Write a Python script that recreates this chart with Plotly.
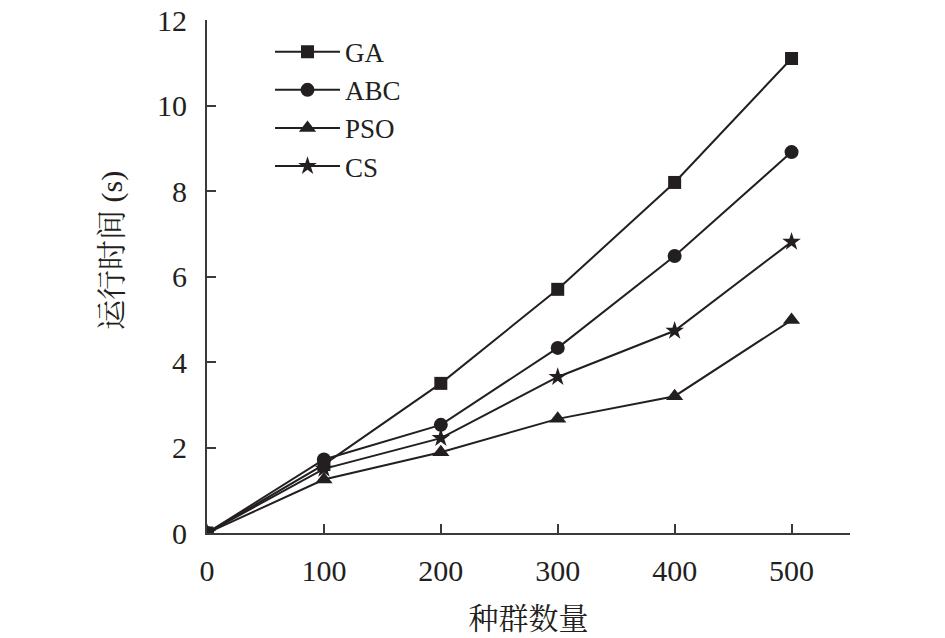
import plotly.graph_objects as go

x_vals = [0, 100, 200, 300, 400, 500]
ga = [0, 1.6, 3.5, 5.7, 8.2, 11.1]
abc = [0, 1.72, 2.53, 4.33, 6.48, 8.91]
pso = [0, 1.25, 1.89, 2.67, 3.2, 4.98]
cs = [0, 1.5, 2.22, 3.65, 4.73, 6.81]

names = ["GA", "ABC", "PSO", "CS"]
symbols = ["square", "circle", "triangle-up", "star"]
sizes = [13, 14, 15, 14]
series = [ga, abc, pso, cs]

color = "#231f20"
fig = go.Figure()
for n, s, sz, y in zip(names, symbols, sizes, series):
    fig.add_trace(go.Scatter(
        x=x_vals, y=y, name=n, mode="lines+markers",
        line=dict(color=color, width=2),
        marker=dict(symbol=s, size=sz, color=color),
    ))

font_fam = "Times New Roman, Liberation Serif, Noto Serif CJK SC, Noto Sans CJK SC, serif"
fig.update_layout(
    width=945, height=638,
    margin=dict(l=199, r=103, t=12, b=113),
    paper_bgcolor="white", plot_bgcolor="white",
    font=dict(family=font_fam, size=30, color="#231f20"),
    showlegend=True,
    legend=dict(x=0.098, y=0.985, xanchor="left", yanchor="top",
                bgcolor="rgba(0,0,0,0)", itemwidth=65,
                font=dict(size=27), tracegroupgap=0),
    xaxis=dict(range=[0, 550], tickvals=[0, 100, 200, 300, 400, 500],
               showgrid=False, zeroline=False, showline=True, automargin=False,
               linecolor="#3a3a3a", linewidth=2, ticks="inside", ticklen=9,
               tickcolor="#3a3a3a", tickwidth=2, ticklabelstandoff=10,
               ticklabeloverflow="allow",
               title=dict(text="种群数量", standoff=22, font=dict(size=30))),
    yaxis=dict(range=[0, 12], tickvals=[0, 2, 4, 6, 8, 10, 12],
               showgrid=False, zeroline=False, showline=True, automargin=False,
               linecolor="#3a3a3a", linewidth=2, ticks="inside", ticklen=9,
               tickcolor="#3a3a3a", tickwidth=2, ticklabelstandoff=12,
               ticklabeloverflow="allow"),
    annotations=[dict(text="运行时间 (s)", textangle=-90, xref="paper", yref="paper",
                      x=(112 - 207) / 643, y=(533 - 251) / 513,
                      xanchor="center", yanchor="middle", showarrow=False,
                      font=dict(size=30))],
)
fig.write_html("out.html")
